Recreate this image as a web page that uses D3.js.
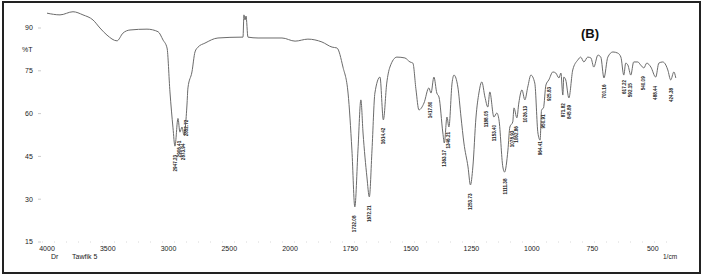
<!DOCTYPE html>
<html>
  <head>
    <meta charset="utf-8">
    <title>IR spectrum (B)</title>
    <style>
      body { margin: 0; background: #fff; }
      svg { display: block; font-family: Arial, "Liberation Sans", sans-serif; }
    </style>
  </head>
  <body>
    <script src="https://cdn.jsdelivr.net/npm/d3@7"></script>
    <script>
      // spectrum: wavenumber (1/cm) and transmittance (%T)
      var wavenumber = [4000, 3893, 3786, 3704, 3621, 3564, 3506, 3424, 3375, 3317, 3177, 3086, 3045, 3012,
        2988, 2963, 2947, 2922, 2906, 2889, 2873, 2848, 2840, 2807, 2782, 2757, 2700, 2593, 2395, 2387,
        2379, 2370, 2362, 2346, 2263, 2066, 1979, 1926, 1868, 1826, 1806, 1781, 1760, 1744, 1732, 1719,
        1707, 1698, 1682, 1672, 1661, 1649, 1628, 1614, 1600, 1587, 1558, 1525, 1504, 1492, 1479, 1467,
        1446, 1426, 1417, 1405, 1393, 1384, 1368, 1362, 1351, 1343, 1330, 1322, 1306, 1293, 1281, 1264,
        1254, 1244, 1231, 1219, 1207, 1194, 1182, 1174, 1157, 1145, 1136, 1120, 1113, 1099, 1091, 1079,
        1074, 1062, 1054, 1041, 1029, 1017, 1004, 988, 975, 966, 960, 952, 942, 930, 913, 901, 888, 880,
        872, 868, 860, 847, 831, 810, 798, 785, 769, 756, 744, 727, 715, 702, 686, 665, 645, 632, 620,
        612, 603, 591, 579, 562, 550, 537, 525, 508, 488, 475, 459, 446, 438, 426, 413, 405];
      var transmittance = [95.2, 94.6, 95.7, 94.6, 92.8, 90.0, 87.5, 85.5, 88.2, 89.3, 89.6, 88.7, 85.8, 83.0,
        67.6, 55.0, 48.6, 58.3, 53.5, 55.3, 52.5, 63.0, 69.0, 74.6, 81.6, 83.3, 84.7, 86.5, 86.8, 86.8,
        94.6, 92.8, 94.2, 86.8, 86.5, 86.5, 85.4, 86.1, 85.1, 83.3, 83.0, 76.3, 67.2, 47.2, 27.3, 47.2,
        64.8, 53.2, 37.8, 30.8, 47.2, 67.2, 72.8, 57.8, 70.7, 76.3, 79.8, 79.5, 78.1, 77.7, 68.3, 61.3,
        63.7, 69.0, 67.2, 72.8, 67.2, 65.8, 53.2, 49.7, 58.8, 55.3, 70.7, 73.5, 69.3, 58.8, 49.7, 41.3,
        35.0, 41.3, 58.8, 67.2, 71.1, 65.8, 62.3, 67.6, 58.8, 60.2, 57.8, 41.3, 39.5, 47.2, 55.3, 57.1,
        62.0, 58.5, 63.7, 68.3, 64.8, 69.3, 73.5, 70.7, 53.2, 50.7, 61.3, 62.0, 70.0, 71.8, 74.6, 74.2, 72.5, 74.2,
        66.5, 72.8, 71.8, 65.5, 75.3, 78.8, 79.8, 78.1, 79.8, 79.5, 76.3, 80.5, 79.8, 72.5, 79.8, 81.6, 81.2, 79.8, 73.5,
        77.7, 77.0, 73.5, 78.1, 78.1, 77.0, 76.0, 77.7, 76.3, 72.8, 77.7, 78.1, 77.0, 75.3, 71.8, 74.6, 72.5];

      // printed peak labels
      var peakLabels = ['2947.23', '2906.41', '2873.94', '2852.72', '1732.08', '1672.21', '1614.42',
        '1417.80', '1363.17', '1346.21', '1253.73', '1188.05', '1153.40', '1111.38', '1078.93',
        '1062.86', '1026.13', '964.41', '950.91', '925.83', '871.82', '845.89', '700.16', '617.22',
        '592.15', '540.09', '488.44', '424.38'];

      var xTicks = [4000, 3500, 3000, 2500, 2000, 1750, 1500, 1250, 1000, 750, 500];
      var yTicks = [90, 75, 60, 45, 30, 15];

      var W = 703, H = 277;
      var svg = d3.select('body').append('svg').attr('width', W).attr('height', H);

      // frame
      svg.append('rect')
        .attr('x', 3).attr('y', 2)
        .attr('width', 697).attr('height', 271)
        .attr('fill', 'none')
        .attr('stroke', '#222')
        .attr('stroke-width', 2);

      // Shimadzu style: x scale doubles below 2000 1/cm
      var x = d3.scaleLinear().domain([4000, 2000, 400]).range([47, 290, 677]);
      var y = d3.scaleLinear().domain([15, 90]).range([242, 28]);

      var pts = wavenumber.map(function(w, i) { return [w, transmittance[i]]; });

      // faint baseline dots
      svg.append('line')
        .attr('x1', x(4000) - 5).attr('x2', x(420))
        .attr('y1', y(15)).attr('y2', y(15))
        .attr('stroke', '#d8d8d8')
        .attr('stroke-dasharray', '1 11');

      // y labels
      svg.selectAll('.ylab').data(yTicks).enter().append('text')
        .attr('class', 'ylab')
        .attr('x', 25).attr('y', function(d) { return y(d); })
        .attr('dy', '0.35em')
        .attr('font-size', 7)
        .attr('fill', '#222')
        .text(function(d) { return d; });
      svg.selectAll('.ytk').data(yTicks).enter().append('line')
        .attr('class', 'ytk')
        .attr('x1', 38).attr('x2', 41)
        .attr('y1', function(d) { return y(d); }).attr('y2', function(d) { return y(d); })
        .attr('stroke', '#ccc');
      svg.append('text')
        .attr('x', 22).attr('y', y((yTicks[0] + yTicks[1]) / 2))
        .attr('dy', '0.35em')
        .attr('font-size', 7)
        .attr('fill', '#222')
        .text('%T');

      // x labels
      svg.selectAll('.xlab').data(xTicks).enter().append('text')
        .attr('class', 'xlab')
        .attr('x', function(d) { return x(d); })
        .attr('y', 251)
        .attr('text-anchor', 'middle')
        .attr('font-size', 7)
        .attr('fill', '#222')
        .text(function(d) { return d; });

      svg.append('text').attr('x', 51).attr('y', 259).attr('font-size', 7).attr('fill', '#222').text('Dr');
      svg.append('text').attr('x', 72).attr('y', 259).attr('font-size', 7).attr('fill', '#222').text('Tawfik  5');
      svg.append('text').attr('x', 663).attr('y', 259).attr('font-size', 6.5).attr('fill', '#222').text('1/cm');

      // the spectrum
      var line = d3.line()
        .x(function(d) { return x(d[0]); })
        .y(function(d) { return y(d[1]); })
        .curve(d3.curveMonotoneX);

      svg.append('path')
        .datum(pts)
        .attr('d', line)
        .attr('fill', 'none')
        .attr('stroke', '#6b6b6b')
        .attr('stroke-width', 1);

      // %T on the curve at a given wavenumber (wavenumber runs downward)
      function tAt(w) {
        for (var i = 1; i < pts.length; i++) {
          if (pts[i][0] <= w) {
            var a = pts[i - 1], b = pts[i];
            var t = (a[0] - w) / (a[0] - b[0]);
            return a[1] + t * (b[1] - a[1]);
          }
        }
        return pts[pts.length - 1][1];
      }

      svg.selectAll('.pk').data(peakLabels).enter().append('text')
        .attr('class', 'pk')
        .attr('transform', function(d) {
          var w = +d;
          return 'translate(' + x(w) + ',' + (y(tAt(w)) + 9) + ') rotate(-90)';
        })
        .attr('text-anchor', 'end')
        .attr('dy', '0.35em')
        .attr('font-size', 4.6)
        .attr('font-weight', 'bold')
        .attr('fill', '#222')
        .text(function(d) { return d; });

      // panel tag
      svg.append('text')
        .attr('x', 590).attr('y', 38)
        .attr('text-anchor', 'middle')
        .attr('font-size', 13)
        .attr('font-weight', 'bold')
        .attr('fill', '#111')
        .text('(B)');
    </script>
  </body>
</html>
